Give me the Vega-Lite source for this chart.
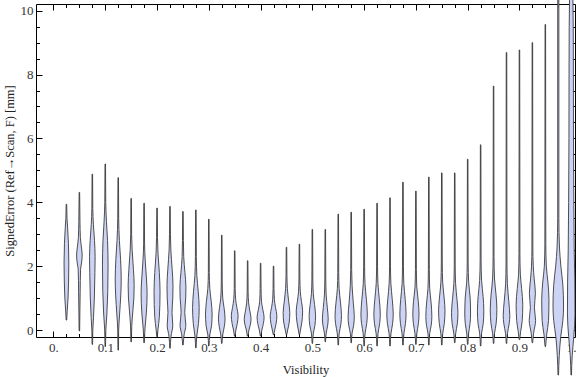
{
 "$schema": "https://vega.github.io/schema/vega-lite/v6.json",
 "width": 539, "height": 333,
 "autosize": {"type": "none"},
 "padding": {"left": 36, "top": 4, "right": 1, "bottom": 40},
 "background": "white",
 "config": {"view": {"stroke": null}, "font": "Liberation Serif"},
 "data": {"values": [
{"v":0.025,"y":0.31,"lo":0.0245,"hi":0.0255},{"v":0.025,"y":0.6,"lo":0.0235,"hi":0.0265},{"v":0.025,"y":1.0,"lo":0.0219,"hi":0.0281},{"v":0.025,"y":1.5,"lo":0.0209,"hi":0.0291},{"v":0.025,"y":2.1,"lo":0.0204,"hi":0.0296},{"v":0.025,"y":2.7,"lo":0.0211,"hi":0.0289},{"v":0.025,"y":3.2,"lo":0.0227,"hi":0.0273},{"v":0.025,"y":3.5,"lo":0.0239,"hi":0.0261},{"v":0.025,"y":3.94,"lo":0.0245,"hi":0.0255},
{"v":0.05,"y":-0.03,"lo":0.0495,"hi":0.0505},{"v":0.05,"y":0.5,"lo":0.0491,"hi":0.0509},{"v":0.05,"y":1.2,"lo":0.0485,"hi":0.0515},{"v":0.05,"y":1.9,"lo":0.0477,"hi":0.0523},{"v":0.05,"y":2.1,"lo":0.0458,"hi":0.0542},{"v":0.05,"y":2.35,"lo":0.0446,"hi":0.0554},{"v":0.05,"y":2.6,"lo":0.0461,"hi":0.0539},{"v":0.05,"y":2.9,"lo":0.0481,"hi":0.0519},{"v":0.05,"y":3.4,"lo":0.0489,"hi":0.0511},{"v":0.05,"y":4.31,"lo":0.0495,"hi":0.0505},
{"v":0.075,"y":-0.45,"lo":0.0745,"hi":0.0755},{"v":0.075,"y":0,"lo":0.0741,"hi":0.0759},{"v":0.075,"y":0.4,"lo":0.0727,"hi":0.0773},{"v":0.075,"y":1.0,"lo":0.0711,"hi":0.0789},{"v":0.075,"y":1.8,"lo":0.07,"hi":0.08},{"v":0.075,"y":2.3,"lo":0.0696,"hi":0.0804},{"v":0.075,"y":2.8,"lo":0.0708,"hi":0.0792},{"v":0.075,"y":3.3,"lo":0.0729,"hi":0.0771},{"v":0.075,"y":3.8,"lo":0.0741,"hi":0.0759},{"v":0.075,"y":4.88,"lo":0.0745,"hi":0.0755},
{"v":0.1,"y":-0.52,"lo":0.0995,"hi":0.1005},{"v":0.1,"y":0,"lo":0.0989,"hi":0.1011},{"v":0.1,"y":0.5,"lo":0.0969,"hi":0.1031},{"v":0.1,"y":1.2,"lo":0.0952,"hi":0.1048},{"v":0.1,"y":2.0,"lo":0.0946,"hi":0.1054},{"v":0.1,"y":2.8,"lo":0.0956,"hi":0.1044},{"v":0.1,"y":3.4,"lo":0.0977,"hi":0.1023},{"v":0.1,"y":4.0,"lo":0.0991,"hi":0.1009},{"v":0.1,"y":5.2,"lo":0.0995,"hi":0.1005},
{"v":0.125,"y":-0.63,"lo":0.1245,"hi":0.1255},{"v":0.125,"y":0,"lo":0.1241,"hi":0.1259},{"v":0.125,"y":0.5,"lo":0.1223,"hi":0.1277},{"v":0.125,"y":1.1,"lo":0.12,"hi":0.13},{"v":0.125,"y":1.6,"lo":0.1192,"hi":0.1308},{"v":0.125,"y":2.2,"lo":0.1204,"hi":0.1296},{"v":0.125,"y":2.8,"lo":0.1227,"hi":0.1273},{"v":0.125,"y":3.5,"lo":0.1241,"hi":0.1259},{"v":0.125,"y":4.77,"lo":0.1245,"hi":0.1255},
{"v":0.15,"y":-0.37,"lo":0.1495,"hi":0.1505},{"v":0.15,"y":0.1,"lo":0.1489,"hi":0.1511},{"v":0.15,"y":0.6,"lo":0.1467,"hi":0.1533},{"v":0.15,"y":1.0,"lo":0.1448,"hi":0.1552},{"v":0.15,"y":1.4,"lo":0.1442,"hi":0.1558},{"v":0.15,"y":1.9,"lo":0.1456,"hi":0.1544},{"v":0.15,"y":2.5,"lo":0.1481,"hi":0.1519},{"v":0.15,"y":3.0,"lo":0.1491,"hi":0.1509},{"v":0.15,"y":4.12,"lo":0.1495,"hi":0.1505},
{"v":0.175,"y":-0.4,"lo":0.1745,"hi":0.1755},{"v":0.175,"y":0,"lo":0.1735,"hi":0.1765},{"v":0.175,"y":0.5,"lo":0.1708,"hi":0.1792},{"v":0.175,"y":1.15,"lo":0.1692,"hi":0.1808},{"v":0.175,"y":1.6,"lo":0.1704,"hi":0.1796},{"v":0.175,"y":2.2,"lo":0.1729,"hi":0.1771},{"v":0.175,"y":2.7,"lo":0.1741,"hi":0.1759},{"v":0.175,"y":3.97,"lo":0.1745,"hi":0.1755},
{"v":0.2,"y":-0.21,"lo":0.1995,"hi":0.2005},{"v":0.2,"y":0,"lo":0.1983,"hi":0.2017},{"v":0.2,"y":0.4,"lo":0.1956,"hi":0.2044},{"v":0.2,"y":1.2,"lo":0.1942,"hi":0.2058},{"v":0.2,"y":1.8,"lo":0.1956,"hi":0.2044},{"v":0.2,"y":2.4,"lo":0.1981,"hi":0.2019},{"v":0.2,"y":2.9,"lo":0.1991,"hi":0.2009},{"v":0.2,"y":3.82,"lo":0.1995,"hi":0.2005},
{"v":0.225,"y":-0.57,"lo":0.2245,"hi":0.2255},{"v":0.225,"y":-0.2,"lo":0.2231,"hi":0.2269},{"v":0.225,"y":0.15,"lo":0.2196,"hi":0.2304},{"v":0.225,"y":0.55,"lo":0.2211,"hi":0.2289},{"v":0.225,"y":1.0,"lo":0.2196,"hi":0.2304},{"v":0.225,"y":1.4,"lo":0.2192,"hi":0.2308},{"v":0.225,"y":1.9,"lo":0.2208,"hi":0.2292},{"v":0.225,"y":2.5,"lo":0.2233,"hi":0.2267},{"v":0.225,"y":3.0,"lo":0.2241,"hi":0.2259},{"v":0.225,"y":3.87,"lo":0.2245,"hi":0.2255},
{"v":0.25,"y":-0.47,"lo":0.2495,"hi":0.2505},{"v":0.25,"y":-0.15,"lo":0.2477,"hi":0.2523},{"v":0.25,"y":0.15,"lo":0.2444,"hi":0.2556},{"v":0.25,"y":0.55,"lo":0.2465,"hi":0.2535},{"v":0.25,"y":1.0,"lo":0.2446,"hi":0.2554},{"v":0.25,"y":1.35,"lo":0.2442,"hi":0.2558},{"v":0.25,"y":1.8,"lo":0.2461,"hi":0.2539},{"v":0.25,"y":2.3,"lo":0.2485,"hi":0.2515},{"v":0.25,"y":2.8,"lo":0.2491,"hi":0.2509},{"v":0.25,"y":3.71,"lo":0.2495,"hi":0.2505},
{"v":0.275,"y":-0.56,"lo":0.2745,"hi":0.2755},{"v":0.275,"y":-0.2,"lo":0.2733,"hi":0.2767},{"v":0.275,"y":0.2,"lo":0.27,"hi":0.28},{"v":0.275,"y":0.7,"lo":0.2686,"hi":0.2814},{"v":0.275,"y":1.2,"lo":0.2704,"hi":0.2796},{"v":0.275,"y":1.7,"lo":0.2731,"hi":0.2769},{"v":0.275,"y":2.3,"lo":0.2741,"hi":0.2759},{"v":0.275,"y":3.76,"lo":0.2745,"hi":0.2755},
{"v":0.3,"y":-0.5,"lo":0.2995,"hi":0.3005},{"v":0.3,"y":-0.15,"lo":0.2981,"hi":0.3019},{"v":0.3,"y":0.15,"lo":0.2946,"hi":0.3054},{"v":0.3,"y":0.5,"lo":0.2936,"hi":0.3064},{"v":0.3,"y":0.9,"lo":0.2954,"hi":0.3046},{"v":0.3,"y":1.3,"lo":0.2981,"hi":0.3019},{"v":0.3,"y":1.8,"lo":0.2991,"hi":0.3009},{"v":0.3,"y":3.47,"lo":0.2995,"hi":0.3005},
{"v":0.325,"y":-0.42,"lo":0.3245,"hi":0.3255},{"v":0.325,"y":-0.15,"lo":0.3231,"hi":0.3269},{"v":0.325,"y":0.1,"lo":0.3202,"hi":0.3298},{"v":0.325,"y":0.35,"lo":0.3186,"hi":0.3314},{"v":0.325,"y":0.7,"lo":0.3206,"hi":0.3294},{"v":0.325,"y":1.0,"lo":0.3231,"hi":0.3269},{"v":0.325,"y":1.5,"lo":0.3241,"hi":0.3259},{"v":0.325,"y":2.97,"lo":0.3245,"hi":0.3255},
{"v":0.35,"y":-0.19,"lo":0.3495,"hi":0.3505},{"v":0.35,"y":0,"lo":0.3477,"hi":0.3523},{"v":0.35,"y":0.2,"lo":0.345,"hi":0.355},{"v":0.35,"y":0.45,"lo":0.3434,"hi":0.3566},{"v":0.35,"y":0.7,"lo":0.3458,"hi":0.3542},{"v":0.35,"y":0.95,"lo":0.3481,"hi":0.3519},{"v":0.35,"y":1.3,"lo":0.3491,"hi":0.3509},{"v":0.35,"y":2.48,"lo":0.3495,"hi":0.3505},
{"v":0.375,"y":-0.19,"lo":0.3745,"hi":0.3755},{"v":0.375,"y":0,"lo":0.3725,"hi":0.3775},{"v":0.375,"y":0.15,"lo":0.37,"hi":0.38},{"v":0.375,"y":0.35,"lo":0.3684,"hi":0.3816},{"v":0.375,"y":0.6,"lo":0.3708,"hi":0.3792},{"v":0.375,"y":0.85,"lo":0.3731,"hi":0.3769},{"v":0.375,"y":1.2,"lo":0.3741,"hi":0.3759},{"v":0.375,"y":2.17,"lo":0.3745,"hi":0.3755},
{"v":0.4,"y":-0.19,"lo":0.3995,"hi":0.4005},{"v":0.4,"y":0,"lo":0.3975,"hi":0.4025},{"v":0.4,"y":0.2,"lo":0.3946,"hi":0.4054},{"v":0.4,"y":0.4,"lo":0.3932,"hi":0.4068},{"v":0.4,"y":0.65,"lo":0.3958,"hi":0.4042},{"v":0.4,"y":0.9,"lo":0.3983,"hi":0.4017},{"v":0.4,"y":1.3,"lo":0.3991,"hi":0.4009},{"v":0.4,"y":2.09,"lo":0.3995,"hi":0.4005},
{"v":0.425,"y":-0.15,"lo":0.4245,"hi":0.4255},{"v":0.425,"y":0,"lo":0.4227,"hi":0.4273},{"v":0.425,"y":0.2,"lo":0.42,"hi":0.43},{"v":0.425,"y":0.45,"lo":0.4186,"hi":0.4314},{"v":0.425,"y":0.7,"lo":0.4211,"hi":0.4289},{"v":0.425,"y":0.95,"lo":0.4233,"hi":0.4267},{"v":0.425,"y":1.3,"lo":0.4241,"hi":0.4259},{"v":0.425,"y":2.0,"lo":0.4245,"hi":0.4255},
{"v":0.45,"y":-0.15,"lo":0.4495,"hi":0.4505},{"v":0.45,"y":0,"lo":0.4477,"hi":0.4523},{"v":0.45,"y":0.25,"lo":0.4446,"hi":0.4554},{"v":0.45,"y":0.55,"lo":0.4436,"hi":0.4564},{"v":0.45,"y":0.9,"lo":0.4458,"hi":0.4542},{"v":0.45,"y":1.3,"lo":0.4483,"hi":0.4517},{"v":0.45,"y":1.7,"lo":0.4491,"hi":0.4509},{"v":0.45,"y":2.59,"lo":0.4495,"hi":0.4505},
{"v":0.475,"y":-0.15,"lo":0.4745,"hi":0.4755},{"v":0.475,"y":0,"lo":0.4729,"hi":0.4771},{"v":0.475,"y":0.25,"lo":0.4702,"hi":0.4798},{"v":0.475,"y":0.6,"lo":0.4688,"hi":0.4812},{"v":0.475,"y":0.9,"lo":0.4711,"hi":0.4789},{"v":0.475,"y":1.2,"lo":0.4733,"hi":0.4767},{"v":0.475,"y":1.6,"lo":0.4741,"hi":0.4759},{"v":0.475,"y":2.69,"lo":0.4745,"hi":0.4755},
{"v":0.5,"y":-0.42,"lo":0.4995,"hi":0.5005},{"v":0.5,"y":-0.1,"lo":0.4981,"hi":0.5019},{"v":0.5,"y":0.15,"lo":0.495,"hi":0.505},{"v":0.5,"y":0.45,"lo":0.4938,"hi":0.5062},{"v":0.5,"y":0.8,"lo":0.4958,"hi":0.5042},{"v":0.5,"y":1.15,"lo":0.4983,"hi":0.5017},{"v":0.5,"y":1.6,"lo":0.4991,"hi":0.5009},{"v":0.5,"y":3.15,"lo":0.4995,"hi":0.5005},
{"v":0.525,"y":-0.37,"lo":0.5245,"hi":0.5255},{"v":0.525,"y":-0.1,"lo":0.5233,"hi":0.5267},{"v":0.525,"y":0.15,"lo":0.5204,"hi":0.5296},{"v":0.525,"y":0.35,"lo":0.5194,"hi":0.5306},{"v":0.525,"y":0.7,"lo":0.5211,"hi":0.5289},{"v":0.525,"y":1.1,"lo":0.5233,"hi":0.5267},{"v":0.525,"y":1.6,"lo":0.5241,"hi":0.5259},{"v":0.525,"y":3.15,"lo":0.5245,"hi":0.5255},
{"v":0.55,"y":-0.47,"lo":0.5495,"hi":0.5505},{"v":0.55,"y":-0.1,"lo":0.5481,"hi":0.5519},{"v":0.55,"y":0.2,"lo":0.5448,"hi":0.5552},{"v":0.55,"y":0.45,"lo":0.5438,"hi":0.5562},{"v":0.55,"y":0.85,"lo":0.5456,"hi":0.5544},{"v":0.55,"y":1.3,"lo":0.5483,"hi":0.5517},{"v":0.55,"y":1.8,"lo":0.5491,"hi":0.5509},{"v":0.55,"y":3.63,"lo":0.5495,"hi":0.5505},
{"v":0.575,"y":-0.4,"lo":0.5745,"hi":0.5755},{"v":0.575,"y":-0.1,"lo":0.5733,"hi":0.5767},{"v":0.575,"y":0.15,"lo":0.5702,"hi":0.5798},{"v":0.575,"y":0.42,"lo":0.569,"hi":0.581},{"v":0.575,"y":0.85,"lo":0.5709,"hi":0.5791},{"v":0.575,"y":1.4,"lo":0.5733,"hi":0.5767},{"v":0.575,"y":1.9,"lo":0.5741,"hi":0.5759},{"v":0.575,"y":3.69,"lo":0.5745,"hi":0.5755},
{"v":0.6,"y":-0.5,"lo":0.5995,"hi":0.6005},{"v":0.6,"y":-0.1,"lo":0.5981,"hi":0.6019},{"v":0.6,"y":0.2,"lo":0.595,"hi":0.605},{"v":0.6,"y":0.5,"lo":0.5938,"hi":0.6062},{"v":0.6,"y":0.95,"lo":0.5956,"hi":0.6044},{"v":0.6,"y":1.45,"lo":0.5983,"hi":0.6017},{"v":0.6,"y":2.0,"lo":0.5991,"hi":0.6009},{"v":0.6,"y":3.78,"lo":0.5995,"hi":0.6005},
{"v":0.625,"y":-0.5,"lo":0.6245,"hi":0.6255},{"v":0.625,"y":-0.1,"lo":0.6231,"hi":0.6269},{"v":0.625,"y":0.2,"lo":0.62,"hi":0.63},{"v":0.625,"y":0.5,"lo":0.6188,"hi":0.6312},{"v":0.625,"y":0.95,"lo":0.6206,"hi":0.6294},{"v":0.625,"y":1.45,"lo":0.6233,"hi":0.6267},{"v":0.625,"y":2.0,"lo":0.6241,"hi":0.6259},{"v":0.625,"y":3.97,"lo":0.6245,"hi":0.6255},
{"v":0.65,"y":-0.5,"lo":0.6495,"hi":0.6505},{"v":0.65,"y":-0.1,"lo":0.6481,"hi":0.6519},{"v":0.65,"y":0.2,"lo":0.645,"hi":0.655},{"v":0.65,"y":0.5,"lo":0.6438,"hi":0.6562},{"v":0.65,"y":0.95,"lo":0.6456,"hi":0.6544},{"v":0.65,"y":1.45,"lo":0.6483,"hi":0.6517},{"v":0.65,"y":2.0,"lo":0.6491,"hi":0.6509},{"v":0.65,"y":4.14,"lo":0.6495,"hi":0.6505},
{"v":0.675,"y":-0.47,"lo":0.6745,"hi":0.6755},{"v":0.675,"y":-0.1,"lo":0.6731,"hi":0.6769},{"v":0.675,"y":0.2,"lo":0.6702,"hi":0.6798},{"v":0.675,"y":0.5,"lo":0.669,"hi":0.681},{"v":0.675,"y":0.95,"lo":0.6706,"hi":0.6794},{"v":0.675,"y":1.45,"lo":0.6733,"hi":0.6767},{"v":0.675,"y":2.0,"lo":0.6741,"hi":0.6759},{"v":0.675,"y":4.63,"lo":0.6745,"hi":0.6755},
{"v":0.7,"y":-0.45,"lo":0.6995,"hi":0.7005},{"v":0.7,"y":-0.1,"lo":0.6981,"hi":0.7019},{"v":0.7,"y":0.2,"lo":0.6952,"hi":0.7048},{"v":0.7,"y":0.5,"lo":0.694,"hi":0.706},{"v":0.7,"y":0.9,"lo":0.6954,"hi":0.7046},{"v":0.7,"y":1.35,"lo":0.6983,"hi":0.7017},{"v":0.7,"y":1.9,"lo":0.6991,"hi":0.7009},{"v":0.7,"y":4.35,"lo":0.6995,"hi":0.7005},
{"v":0.725,"y":-0.47,"lo":0.7245,"hi":0.7255},{"v":0.725,"y":-0.1,"lo":0.7233,"hi":0.7267},{"v":0.725,"y":0.15,"lo":0.7204,"hi":0.7296},{"v":0.725,"y":0.42,"lo":0.7192,"hi":0.7308},{"v":0.725,"y":0.85,"lo":0.7206,"hi":0.7294},{"v":0.725,"y":1.3,"lo":0.7233,"hi":0.7267},{"v":0.725,"y":1.9,"lo":0.7241,"hi":0.7259},{"v":0.725,"y":4.79,"lo":0.7245,"hi":0.7255},
{"v":0.75,"y":-0.47,"lo":0.7495,"hi":0.7505},{"v":0.75,"y":-0.1,"lo":0.7481,"hi":0.7519},{"v":0.75,"y":0.2,"lo":0.7452,"hi":0.7548},{"v":0.75,"y":0.6,"lo":0.7438,"hi":0.7562},{"v":0.75,"y":1.0,"lo":0.7454,"hi":0.7546},{"v":0.75,"y":1.5,"lo":0.7483,"hi":0.7517},{"v":0.75,"y":2.1,"lo":0.7491,"hi":0.7509},{"v":0.75,"y":4.92,"lo":0.7495,"hi":0.7505},
{"v":0.775,"y":-0.4,"lo":0.7745,"hi":0.7755},{"v":0.775,"y":-0.1,"lo":0.7731,"hi":0.7769},{"v":0.775,"y":0.2,"lo":0.77,"hi":0.78},{"v":0.775,"y":0.55,"lo":0.7688,"hi":0.7812},{"v":0.775,"y":0.95,"lo":0.7706,"hi":0.7794},{"v":0.775,"y":1.45,"lo":0.7733,"hi":0.7767},{"v":0.775,"y":2.0,"lo":0.7741,"hi":0.7759},{"v":0.775,"y":4.92,"lo":0.7745,"hi":0.7755},
{"v":0.8,"y":-0.45,"lo":0.7995,"hi":0.8005},{"v":0.8,"y":-0.1,"lo":0.7981,"hi":0.8019},{"v":0.8,"y":0.2,"lo":0.7954,"hi":0.8046},{"v":0.8,"y":0.5,"lo":0.7944,"hi":0.8056},{"v":0.8,"y":1.0,"lo":0.7952,"hi":0.8048},{"v":0.8,"y":1.5,"lo":0.7981,"hi":0.8019},{"v":0.8,"y":2.1,"lo":0.7991,"hi":0.8009},{"v":0.8,"y":5.35,"lo":0.7995,"hi":0.8005},
{"v":0.825,"y":-0.5,"lo":0.8245,"hi":0.8255},{"v":0.825,"y":-0.1,"lo":0.8231,"hi":0.8269},{"v":0.825,"y":0.2,"lo":0.82,"hi":0.83},{"v":0.825,"y":0.6,"lo":0.8188,"hi":0.8312},{"v":0.825,"y":1.05,"lo":0.8202,"hi":0.8298},{"v":0.825,"y":1.55,"lo":0.8231,"hi":0.8269},{"v":0.825,"y":2.2,"lo":0.8241,"hi":0.8259},{"v":0.825,"y":5.8,"lo":0.8245,"hi":0.8255},
{"v":0.85,"y":-0.42,"lo":0.8495,"hi":0.8505},{"v":0.85,"y":-0.1,"lo":0.8481,"hi":0.8519},{"v":0.85,"y":0.2,"lo":0.845,"hi":0.855},{"v":0.85,"y":0.65,"lo":0.8436,"hi":0.8564},{"v":0.85,"y":1.1,"lo":0.8452,"hi":0.8548},{"v":0.85,"y":1.6,"lo":0.8481,"hi":0.8519},{"v":0.85,"y":2.3,"lo":0.8491,"hi":0.8509},{"v":0.85,"y":7.64,"lo":0.8495,"hi":0.8505},
{"v":0.875,"y":-0.42,"lo":0.8745,"hi":0.8755},{"v":0.875,"y":-0.1,"lo":0.8731,"hi":0.8769},{"v":0.875,"y":0.2,"lo":0.8698,"hi":0.8802},{"v":0.875,"y":0.45,"lo":0.8686,"hi":0.8814},{"v":0.875,"y":0.9,"lo":0.8706,"hi":0.8794},{"v":0.875,"y":1.45,"lo":0.8733,"hi":0.8767},{"v":0.875,"y":2.1,"lo":0.8741,"hi":0.8759},{"v":0.875,"y":8.69,"lo":0.8745,"hi":0.8755},
{"v":0.9,"y":-0.3,"lo":0.8995,"hi":0.9005},{"v":0.9,"y":-0.05,"lo":0.8977,"hi":0.9023},{"v":0.9,"y":0.3,"lo":0.8946,"hi":0.9054},{"v":0.9,"y":0.8,"lo":0.8936,"hi":0.9064},{"v":0.9,"y":1.3,"lo":0.8958,"hi":0.9042},{"v":0.9,"y":1.75,"lo":0.8983,"hi":0.9017},{"v":0.9,"y":2.4,"lo":0.8991,"hi":0.9009},{"v":0.9,"y":8.77,"lo":0.8995,"hi":0.9005},
{"v":0.925,"y":-0.4,"lo":0.9245,"hi":0.9255},{"v":0.925,"y":-0.1,"lo":0.9227,"hi":0.9273},{"v":0.925,"y":0.3,"lo":0.9188,"hi":0.9312},{"v":0.925,"y":0.7,"lo":0.9211,"hi":0.9289},{"v":0.925,"y":1.15,"lo":0.9192,"hi":0.9308},{"v":0.925,"y":1.6,"lo":0.9215,"hi":0.9285},{"v":0.925,"y":2.0,"lo":0.9233,"hi":0.9267},{"v":0.925,"y":2.6,"lo":0.9241,"hi":0.9259},{"v":0.925,"y":9.0,"lo":0.9245,"hi":0.9255},
{"v":0.95,"y":-0.52,"lo":0.9495,"hi":0.9505},{"v":0.95,"y":-0.15,"lo":0.9475,"hi":0.9525},{"v":0.95,"y":0.3,"lo":0.9438,"hi":0.9562},{"v":0.95,"y":0.95,"lo":0.943,"hi":0.957},{"v":0.95,"y":1.5,"lo":0.945,"hi":0.955},{"v":0.95,"y":2.0,"lo":0.9481,"hi":0.9519},{"v":0.95,"y":2.7,"lo":0.9491,"hi":0.9509},{"v":0.95,"y":9.57,"lo":0.9495,"hi":0.9505},
{"v":0.975,"y":-1.41,"lo":0.9745,"hi":0.9755},{"v":0.975,"y":-0.8,"lo":0.9731,"hi":0.9769},{"v":0.975,"y":-0.2,"lo":0.9702,"hi":0.9798},{"v":0.975,"y":0.3,"lo":0.9661,"hi":0.9839},{"v":0.975,"y":0.75,"lo":0.9648,"hi":0.9852},{"v":0.975,"y":1.4,"lo":0.9661,"hi":0.9839},{"v":0.975,"y":2.0,"lo":0.97,"hi":0.98},{"v":0.975,"y":2.6,"lo":0.9727,"hi":0.9773},{"v":0.975,"y":3.5,"lo":0.9739,"hi":0.9761},{"v":0.975,"y":10.8,"lo":0.9739,"hi":0.9761},
{"v":1.0,"y":-1.41,"lo":0.9995,"hi":1.0005},{"v":1.0,"y":-0.8,"lo":0.9981,"hi":1.0019},{"v":1.0,"y":-0.2,"lo":0.995,"hi":1.005},{"v":1.0,"y":0.5,"lo":0.9927,"hi":1.0073},{"v":1.0,"y":1.5,"lo":0.993,"hi":1.007},{"v":1.0,"y":2.5,"lo":0.9942,"hi":1.0058},{"v":1.0,"y":4.0,"lo":0.995,"hi":1.005},{"v":1.0,"y":6.0,"lo":0.9956,"hi":1.0044},{"v":1.0,"y":8.0,"lo":0.9958,"hi":1.0042},{"v":1.0,"y":9.5,"lo":0.9961,"hi":1.0039},{"v":1.0,"y":10.8,"lo":0.9971,"hi":1.0029}
 ]},
 "layer": [
  {
   "mark": {"type": "area", "orient": "horizontal", "interpolate": "monotone", "fill": "#ccd3f5", "stroke": "#333333", "strokeWidth": 1, "strokeOpacity": 0.85},
   "encoding": {
    "y": {"field": "y", "type": "quantitative", "scale": {"domain": [-0.219, 10.21], "nice": false, "zero": false},
     "axis": {"orient": "left", "values": [0,0.5,1,1.5,2,2.5,3,3.5,4,4.5,5,5.5,6,6.5,7,7.5,8,8.5,9,9.5,10],
      "labelExpr": "datum.value % 2 == 0 ? format(datum.value, 'd') : ''",
      "title": "SignedError (Ref→Scan, F) [mm]", "titleFont": "Liberation Serif", "titleFontSize": 12.5, "titleFontWeight": "normal", "titleColor": "#222", "titlePadding": 4,
      "labelFont": "Liberation Serif", "labelFontSize": 13, "labelColor": "#333", "labelPadding": 9, "labelOverlap": false, "labelBound": false,
      "tickColor": "black", "tickSize": {"condition": {"test": "datum.value % 2 == 0", "value": -6}, "value": -3.5},
      "domainColor": "black", "grid": false}},
    "x": {"field": "lo", "type": "quantitative", "stack": null, "scale": {"domain": [-0.0338, 1.0073], "nice": false, "zero": false},
     "axis": {"orient": "bottom", "values": [0,0.025,0.05,0.075,0.1,0.125,0.15,0.175,0.2,0.225,0.25,0.275,0.3,0.325,0.35,0.375,0.4,0.425,0.45,0.475,0.5,0.525,0.55,0.575,0.6,0.625,0.65,0.675,0.7,0.725,0.75,0.775,0.8,0.825,0.85,0.875,0.9,0.925,0.95,0.975,1],
      "labelExpr": "abs(datum.value*10 - round(datum.value*10)) < 0.001 ? (datum.value == 0 ? '0.' : (datum.value == 1 ? '1.' : format(datum.value, '.1f'))) : ''",
      "title": "Visibility", "titleFont": "Liberation Serif", "titleFontSize": 12.5, "titleFontWeight": "normal", "titleColor": "#222", "titlePadding": 7,
      "labelFont": "Liberation Serif", "labelFontSize": 13, "labelColor": "#333", "labelPadding": 10, "labelFlush": false, "labelOverlap": false, "labelBound": false,
      "tickColor": "black", "tickSize": {"condition": {"test": "abs(datum.value*10 - round(datum.value*10)) < 0.001", "value": -6}, "value": -3.5},
      "domainColor": "black", "grid": false}},
    "x2": {"field": "hi"},
    "detail": {"field": "v", "type": "nominal"}
   }
  },
  {
   "mark": {"type": "point", "opacity": 0},
   "encoding": {
    "y": {"field": "y", "type": "quantitative", "scale": {"domain": [-0.219, 10.21], "nice": false, "zero": false},
     "axis": {"orient": "right", "values": [0,0.5,1,1.5,2,2.5,3,3.5,4,4.5,5,5.5,6,6.5,7,7.5,8,8.5,9,9.5,10], "labels": false, "title": null,
      "tickColor": "black", "tickSize": {"condition": {"test": "datum.value % 2 == 0", "value": -6}, "value": -3.5}, "domainColor": "black", "grid": false}},
    "x": {"field": "lo", "type": "quantitative", "scale": {"domain": [-0.0338, 1.0073], "nice": false, "zero": false},
     "axis": {"orient": "top", "values": [0,0.025,0.05,0.075,0.1,0.125,0.15,0.175,0.2,0.225,0.25,0.275,0.3,0.325,0.35,0.375,0.4,0.425,0.45,0.475,0.5,0.525,0.55,0.575,0.6,0.625,0.65,0.675,0.7,0.725,0.75,0.775,0.8,0.825,0.85,0.875,0.9,0.925,0.95,0.975,1], "labels": false, "title": null,
      "tickColor": "black", "tickSize": {"condition": {"test": "abs(datum.value*10 - round(datum.value*10)) < 0.001", "value": -6}, "value": -3.5}, "domainColor": "black", "grid": false}}
   }
  }
 ],
 "resolve": {"axis": {"x": "independent", "y": "independent"}}
}
